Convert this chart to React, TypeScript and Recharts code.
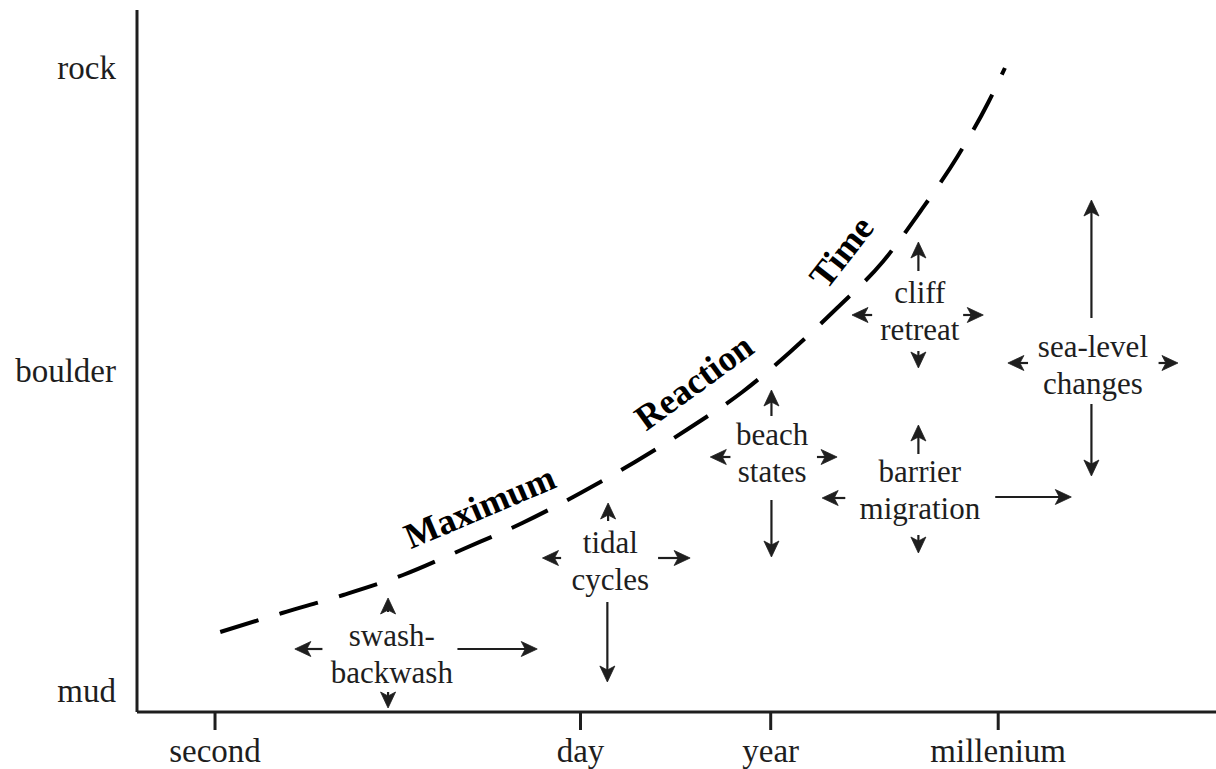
import React from "react";
import {
  ComposedChart,
  Line,
  XAxis,
  YAxis,
  ReferenceLine,
  ReferenceDot,
} from "recharts";

// x = log10 of time in seconds, y = grain size (arbitrary scale)
const timeTicks = [0, 4.9, 7.45, 10.5];
const timeTickLabels = ["second", "day", "year", "millenium"];
const sizeTicks = [0.22, 3.42, 6.45];
const sizeTickLabels = ["mud", "boulder", "rock"];

// maximum reaction time curve
const curveTime = [
  0.07, 0.9, 1.72, 2.52, 3.33, 4.12, 4.9, 5.63, 6.34, 7.07, 7.71, 8.34, 8.95,
  9.45, 9.95, 10.37, 10.59,
];
const curveSize = [
  0.8, 0.99, 1.17, 1.37, 1.63, 1.89, 2.19, 2.5, 2.83, 3.2, 3.6, 4.04, 4.5, 5.0,
  5.55, 6.1, 6.44,
];

const curveWords = ["Maximum", "Reaction", "Time"];
const curveWordTime = [3.55, 6.42, 8.4];
const curveWordSize = [2.05, 3.3, 4.6];

const processLines = [
  ["swash-", "backwash"],
  ["tidal", "cycles"],
  ["beach", "states"],
  ["barrier", "migration"],
  ["cliff", "retreat"],
  ["sea-level", "changes"],
];
const processTime = [2.37, 5.3, 7.47, 9.45, 9.45, 11.77];
const processSize = [0.66, 1.59, 2.67, 2.3, 4.09, 3.55];

// [fromTime, fromSize, toTime, toSize]
const arrows: [number, number, number, number][] = [
  // swash-backwash
  [2.32, 1.0, 2.32, 1.14],
  [2.32, 0.2, 2.32, 0.04],
  [1.44, 0.63, 1.07, 0.63],
  [3.25, 0.63, 4.32, 0.63],
  // tidal cycles
  [5.27, 1.91, 5.27, 2.09],
  [4.64, 1.54, 4.39, 1.54],
  [5.94, 1.54, 6.37, 1.54],
  [5.26, 1.1, 5.26, 0.3],
  // beach states
  [7.46, 2.96, 7.46, 3.22],
  [6.91, 2.55, 6.64, 2.55],
  [8.07, 2.55, 8.34, 2.55],
  [7.46, 2.12, 7.46, 1.55],
  // barrier migration
  [9.43, 2.58, 9.43, 2.87],
  [8.45, 2.14, 8.14, 2.14],
  [10.46, 2.15, 11.48, 2.15],
  [9.43, 1.77, 9.43, 1.59],
  // cliff retreat
  [9.43, 4.41, 9.43, 4.7],
  [8.81, 3.97, 8.54, 3.97],
  [10.03, 3.97, 10.3, 3.97],
  [9.43, 3.61, 9.43, 3.44],
  // sea-level changes
  [11.75, 3.94, 11.75, 5.12],
  [10.9, 3.49, 10.63, 3.49],
  [12.65, 3.49, 12.91, 3.49],
  [11.75, 3.08, 11.75, 2.36],
];

const curveData = curveTime.map((t, i) => ({ time: t, size: curveSize[i] }));

const INK = "#1e1e1e";
const FONT = "'Liberation Serif', 'Times New Roman', serif";
const wordAngles = [-23, -36, -52];

function ArrowShape(props: any) {
  const { x1, y1, x2, y2 } = props;
  const dx = x2 - x1;
  const dy = y2 - y1;
  const len = Math.hypot(dx, dy) || 1;
  const ux = dx / len;
  const uy = dy / len;
  const px = -uy;
  const py = ux;
  const L = 16;
  const W = 7.5;
  const N = 12;
  const bx = x2 - ux * L;
  const by = y2 - uy * L;
  const nx = x2 - ux * N;
  const ny = y2 - uy * N;
  const pts = [
    [x2, y2],
    [bx + px * W, by + py * W],
    [nx, ny],
    [bx - px * W, by - py * W],
  ]
    .map((p) => p.join(","))
    .join(" ");
  return (
    <g>
      {len > N + 1 && (
        <line x1={x1} y1={y1} x2={nx} y2={ny} stroke={INK} strokeWidth={2.2} />
      )}
      <polygon points={pts} fill={INK} stroke={INK} strokeWidth={0.8} strokeLinejoin="round" />
    </g>
  );
}

export default function App() {
  return (
    <div style={{ width: 1216, height: 769, background: "#fff" }}>
      <style>{"body{margin:0}"}</style>
      <ComposedChart
        width={1216}
        height={769}
        data={curveData}
        margin={{ top: 10, right: 0, bottom: 0, left: 0 }}
        style={{ fontFamily: FONT }}
      >
        <XAxis
          type="number"
          dataKey="time"
          domain={[-1.046, 13.42]}
          allowDataOverflow
          ticks={timeTicks}
          tickFormatter={(v: number) => timeTickLabels[timeTicks.indexOf(v)]}
          height={57}
          tickSize={18}
          tickMargin={9}
          axisLine={{ stroke: INK, strokeWidth: 3 }}
          tickLine={{ stroke: INK, strokeWidth: 3 }}
          tick={{ fill: INK, fontSize: 33, fontFamily: FONT }}
        />
        <YAxis
          type="number"
          domain={[0, 7.02]}
          allowDataOverflow
          ticks={sizeTicks}
          tickFormatter={(v: number) => sizeTickLabels[sizeTicks.indexOf(v)]}
          width={137}
          tickSize={0}
          tickMargin={21}
          tickLine={false}
          axisLine={{ stroke: INK, strokeWidth: 3 }}
          tick={{ fill: INK, fontSize: 33, fontFamily: FONT }}
        />
        <Line
          type="monotone"
          dataKey="size"
          stroke="#000"
          strokeWidth={4}
          strokeDasharray="40 22"
          dot={false}
          activeDot={false}
          isAnimationActive={false}
        />
        {curveWords.map((w, i) => (
          <ReferenceDot
            key={w}
            x={curveWordTime[i]}
            y={curveWordSize[i]}
            r={0}
            ifOverflow="visible"
            shape={(p: any) => (
              <text
                x={p.cx}
                y={p.cy}
                textAnchor="middle"
                dominantBaseline="central"
                transform={`rotate(${wordAngles[i]} ${p.cx} ${p.cy})`}
                fontFamily={FONT}
                fontWeight="bold"
                fontSize={36}
                fill="#000"
              >
                {w}
              </text>
            )}
          />
        ))}
        {processLines.map((lines, i) => (
          <ReferenceDot
            key={lines.join(" ")}
            x={processTime[i]}
            y={processSize[i]}
            r={0}
            ifOverflow="visible"
            shape={(p: any) => (
              <text
                x={p.cx}
                y={p.cy}
                textAnchor="middle"
                fontFamily={FONT}
                fontSize={31}
                fill={INK}
              >
                {lines.map((l, j) => (
                  <tspan key={l} x={p.cx} dy={j === 0 ? 0 : 37}>
                    {l}
                  </tspan>
                ))}
              </text>
            )}
          />
        ))}
        {arrows.map((a, i) => (
          <ReferenceLine
            key={i}
            segment={[
              { x: a[0], y: a[1] },
              { x: a[2], y: a[3] },
            ]}
            ifOverflow="visible"
            shape={ArrowShape}
          />
        ))}
      </ComposedChart>
    </div>
  );
}
